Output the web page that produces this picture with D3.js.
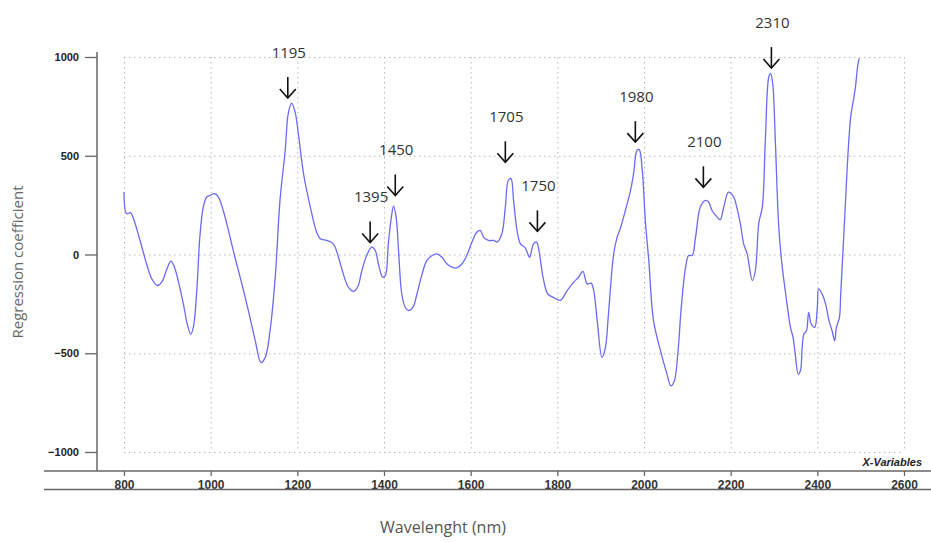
<!DOCTYPE html>
<html><head><meta charset="utf-8">
<script src="https://cdn.jsdelivr.net/npm/d3@7"></script>
<style>
html,body{margin:0;padding:0;background:#fff;}
svg{display:block;}
</style></head>
<body>
<svg id="chart" width="931" height="542"></svg>
<script>
// ---- data ----
const wavelength = [800,806,815,822,837,852,864,877,887,899,908,915,925,937,946,954,960,968,975,983,991,999,1009,1018,1029,1041,1056,1072,1087,1103,1116,1126,1137,1149,1160,1172,1178,1183,1187,1195,1203,1215,1230,1245,1253,1268,1283,1295,1306,1318,1330,1339,1349,1360,1372,1380,1387,1397,1403,1410,1417,1422,1428,1434,1441,1449,1457,1467,1476,1488,1499,1511,1522,1534,1545,1557,1568,1580,1591,1603,1614,1622,1630,1641,1653,1661,1672,1680,1687,1693,1699,1707,1715,1726,1736,1745,1752,1757,1767,1778,1791,1807,1822,1838,1849,1859,1869,1878,1884,1892,1903,1911,1918,1930,1938,1945,1957,1969,1976,1984,1989,1996,2003,2011,2022,2038,2053,2062,2070,2078,2086,2096,2103,2111,2119,2130,2142,2149,2157,2169,2176,2184,2195,2207,2214,2223,2230,2238,2250,2257,2265,2273,2280,2288,2292,2297,2303,2311,2319,2326,2330,2338,2344,2349,2356,2361,2365,2369,2375,2380,2386,2394,2400,2403,2411,2419,2427,2434,2440,2444,2451,2454,2462,2469,2477,2484,2488,2494,2497];
const coefficient = [316,206,212,181,71,-47,-123,-157,-140,-73,-34,-56,-132,-250,-352,-403,-369,-183,88,240,291,299,308,291,223,122,-14,-149,-284,-437,-547,-521,-386,-115,274,528,700,750,766,720,600,400,240,110,80,71,54,-14,-98,-166,-186,-166,-81,-5,37,20,-47,-115,-107,54,189,245,189,3,-200,-267,-284,-267,-200,-98,-30,-5,3,-14,-47,-64,-68,-47,-5,63,113,122,88,71,71,63,105,240,376,384,274,122,54,34,-14,54,63,29,-115,-200,-217,-232,-185,-140,-115,-85,-149,-145,-183,-335,-521,-470,-301,3,88,130,223,325,409,528,531,426,173,-30,-335,-487,-606,-665,-640,-504,-268,-64,-5,-5,88,240,274,266,223,189,176,240,316,291,240,150,54,3,-132,-81,160,240,579,900,917,866,579,139,-64,-183,-250,-369,-420,-504,-606,-589,-470,-403,-386,-293,-352,-369,-268,-174,-200,-250,-335,-386,-437,-369,-318,-200,139,443,697,790,849,968,993];

const xTicks = [800,1000,1200,1400,1600,1800,2000,2200,2400,2600];
const yTicks = [-1000,-500,0,500,1000];

const annLabels = ["1195","1395","1450","1705","1750","1980","2100","2310"];
const annX      = [1178,1368,1426,1680,1754,1980,2137,2294];
const annTip    = [792,61,299,467,117,569,340,944];

// ---- layout ----
const svg = d3.select("#chart");
const x = d3.scaleLinear().domain([800,2600]).range([124,904]);
const y = d3.scaleLinear().domain([-1000,1000]).range([452,57]);

// grid
const grid = svg.append("g").attr("stroke","#b8b8b8").attr("stroke-width",1).attr("stroke-dasharray","1.5,3.5");
grid.selectAll(".gx").data(xTicks).join("line")
  .attr("x1",d=>x(d)+0.5).attr("x2",d=>x(d)+0.5).attr("y1",y(1000)).attr("y2",y(-1000));
grid.selectAll(".gy").data(yTicks).join("line")
  .attr("x1",x(800)).attr("x2",x(2600)).attr("y1",d=>y(d)+0.5).attr("y2",d=>y(d)+0.5);

// y axis
const axisColor = "#666";
const yMinor = d3.range(-1000,1001,100);
const gy = svg.append("g").attr("transform","translate(97,0)");
gy.call(d3.axisLeft(y).tickValues(yMinor).tickSize(6).tickFormat(""));
gy.call(d3.axisLeft(y).tickValues(yTicks).tickSize(12).tickPadding(6).tickFormat(d3.format("d")));
gy.selectAll(".domain").remove();
gy.selectAll("line").attr("stroke",axisColor).attr("stroke-width",1.3);
gy.selectAll("text").attr("font-family","'Liberation Sans Narrow','Liberation Sans',Arial,sans-serif")
  .attr("font-weight","bold").attr("font-size","11px").attr("fill","#222");
svg.append("line").attr("x1",97).attr("x2",97).attr("y1",52).attr("y2",471)
  .attr("stroke",axisColor).attr("stroke-width",1.5);

// x axis
const xMinor = d3.range(800,2601,50);
const gx = svg.append("g").attr("transform","translate(0,471)");
gx.call(d3.axisBottom(x).tickValues(xMinor).tickSize(3).tickFormat(""));
gx.call(d3.axisBottom(x).tickValues(xTicks).tickSize(5).tickPadding(4).tickFormat(d3.format("d")));
gx.selectAll(".domain").remove();
gx.selectAll("line").attr("stroke",axisColor).attr("stroke-width",1.3);
gx.selectAll("text").attr("font-family","'Liberation Sans Narrow','Liberation Sans',Arial,sans-serif")
  .attr("font-weight","bold").attr("font-size","12px").attr("fill","#333");
svg.append("line").attr("x1",44).attr("x2",931).attr("y1",471).attr("y2",471)
  .attr("stroke",axisColor).attr("stroke-width",1.6);
svg.append("line").attr("x1",44).attr("x2",931).attr("y1",489.5).attr("y2",489.5)
  .attr("stroke",axisColor).attr("stroke-width",1.6);

svg.append("text").attr("x",922).attr("y",466).attr("text-anchor","end")
  .attr("font-family","'Liberation Sans Narrow','Liberation Sans',Arial,sans-serif")
  .attr("font-weight","bold").attr("font-style","italic").attr("font-size","11px").attr("fill","#222")
  .text("X-Variables");

// data line
const line = d3.line().x((d,i)=>x(wavelength[i])).y(d=>y(d)).curve(d3.curveCatmullRom.alpha(0.5));
svg.append("path").datum(coefficient).attr("d",line)
  .attr("fill","none").attr("stroke","#6a6af7").attr("stroke-width",1.3);

// annotations
const ann = svg.append("g");
annLabels.forEach((lab,i)=>{
  const ax = x(annX[i]);
  const tip = y(annTip[i]);
  const top = tip - 21;
  const g = ann.append("g");
  g.append("line").attr("x1",ax).attr("x2",ax).attr("y1",top).attr("y2",tip)
    .attr("stroke","#111").attr("stroke-width",1.6);
  g.append("path").attr("d",`M${ax-8},${tip-9}L${ax},${tip}L${ax+8},${tip-9}`)
    .attr("fill","none").attr("stroke","#111").attr("stroke-width",1.6);
  g.append("text").attr("x",ax+1).attr("y",top-19).attr("text-anchor","middle")
    .attr("font-family","'Open Sans','Noto Sans',sans-serif").attr("font-size","15px").attr("fill","#333")
    .text(lab);
});

// axis titles
svg.append("text").attr("transform","translate(23,262) rotate(-90)").attr("text-anchor","middle")
  .attr("font-family","'Open Sans','Noto Sans',sans-serif").attr("font-size","15px").attr("fill","#666")
  .text("Regression coefficient");
svg.append("text").attr("x",443).attr("y",533).attr("text-anchor","middle")
  .attr("font-family","'Open Sans','Noto Sans',sans-serif").attr("font-size","16px").attr("fill","#555")
  .text("Wavelenght (nm)");
</script>
</body></html>
